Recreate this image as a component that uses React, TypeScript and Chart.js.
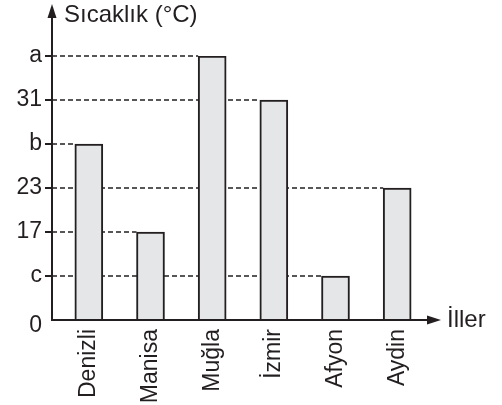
import React, { useEffect, useRef } from "react";
import { Chart, registerables } from "chart.js";

Chart.register(...registerables);

const categories = ["Denizli", "Manisa", "Muğla", "İzmir", "Afyon", "Aydin"];
const tickLabels = ["0", "c", "17", "23", "b", "31", "a"];
// each value is the index of its level in tickLabels
const levels = [4, 2, 6, 5, 1, 3];
const yTitle = "Sıcaklık (°C)";
const xTitle = "İller";

const INK = "#231f20";
const FONT = "'Liberation Sans', Arial, sans-serif";

const axesPlugin = {
  id: "axesPlugin",
  beforeDatasetsDraw(chart: any) {
    const { ctx, chartArea, scales } = chart;
    const y = scales.y;
    const meta = chart.getDatasetMeta(0);
    const axisX = chartArea.left - 6;
    ctx.save();
    ctx.strokeStyle = INK;
    ctx.lineWidth = 1.7;
    ctx.setLineDash([5, 3]);
    meta.data.forEach((bar: any, i: number) => {
      const py = y.getPixelForValue(levels[i]);
      const left = bar.x - bar.width / 2;
      ctx.beginPath();
      ctx.moveTo(axisX, py);
      ctx.lineTo(left, py);
      ctx.stroke();
    });
    ctx.restore();
  },
  afterDatasetsDraw(chart: any) {
    const { ctx, chartArea, scales } = chart;
    const y = scales.y;
    const axisX = chartArea.left - 6;
    const axisY = chartArea.bottom;
    ctx.save();
    ctx.strokeStyle = INK;
    ctx.fillStyle = INK;
    ctx.lineWidth = 2;
    ctx.setLineDash([]);
    for (let v = 1; v < tickLabels.length; v++) {
      const py = y.getPixelForValue(v);
      ctx.beginPath();
      ctx.moveTo(axisX - 7, py);
      ctx.lineTo(axisX, py);
      ctx.stroke();
    }
    ctx.beginPath();
    ctx.moveTo(axisX, axisY + 1);
    ctx.lineTo(axisX, 16);
    ctx.stroke();
    ctx.beginPath();
    ctx.moveTo(axisX, 4);
    ctx.lineTo(axisX - 4.5, 18);
    ctx.lineTo(axisX + 4.5, 18);
    ctx.closePath();
    ctx.fill();
    ctx.beginPath();
    ctx.moveTo(axisX - 1, axisY);
    ctx.lineTo(430, axisY);
    ctx.stroke();
    ctx.beginPath();
    ctx.moveTo(441, axisY);
    ctx.lineTo(427, axisY - 4.5);
    ctx.lineTo(427, axisY + 4.5);
    ctx.closePath();
    ctx.fill();
    ctx.textBaseline = "middle";
    ctx.font = `24px ${FONT}`;
    ctx.textAlign = "left";
    ctx.fillText(yTitle, 64, 15);
    ctx.fillText(xTitle, 447, axisY);
    ctx.font = `23px ${FONT}`;
    ctx.textAlign = "right";
    ctx.fillText(tickLabels[0], 42, y.getPixelForValue(0) + 6);
    ctx.restore();
  },
};

export default function App() {
  const ref = useRef<HTMLCanvasElement | null>(null);
  useEffect(() => {
    if (!ref.current) return;
    const chart = new Chart(ref.current, {
      type: "bar",
      data: {
        labels: categories,
        datasets: [
          {
            data: levels,
            backgroundColor: "#e5e6e7",
            borderColor: INK,
            borderWidth: 2,
            barThickness: 28,
          },
        ],
      },
      options: {
        responsive: false,
        animation: false,
        layout: { padding: { top: 56, right: 74, left: 0, bottom: 0 } },
        plugins: {
          legend: { display: false },
          tooltip: { enabled: false },
        },
        scales: {
          x: {
            grid: { display: false, drawTicks: false },
            border: { display: false },
            ticks: {
              color: INK,
              font: { family: FONT, size: 23 },
              minRotation: 90,
              maxRotation: 90,
              padding: 9,
              autoSkip: false,
            },
            afterFit: (s: any) => {
              s.height = 85;
            },
          },
          y: {
            min: 0,
            max: 6,
            grid: { display: false, drawTicks: false },
            border: { display: false },
            ticks: {
              stepSize: 1,
              color: INK,
              font: { family: FONT, size: 23 },
              padding: 16,
              callback: (v: any) => (Number(v) === 0 ? "" : tickLabels[Number(v)] ?? ""),
            },
            afterFit: (s: any) => {
              s.width = 58;
            },
          },
        },
      },
      plugins: [axesPlugin],
    });
    return () => chart.destroy();
  }, []);
  return (
    <div style={{ position: "fixed", left: 0, top: 0, width: 502, height: 405, background: "#fff" }}>
      <canvas ref={ref} width={502} height={405} />
    </div>
  );
}
